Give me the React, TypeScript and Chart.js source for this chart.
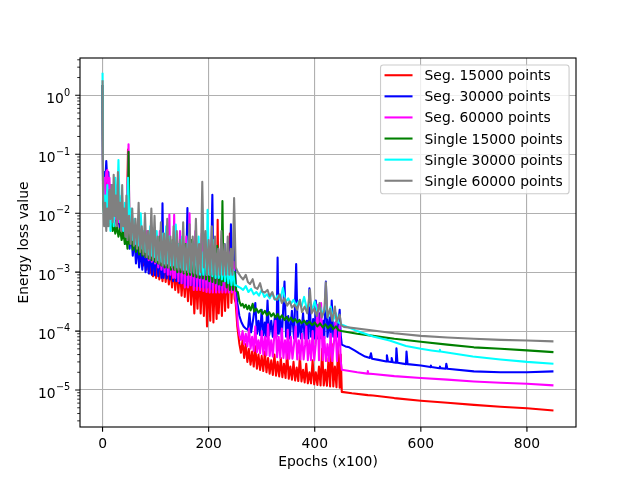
import { useEffect, useRef } from "react";
import { Chart, registerables } from "chart.js";

Chart.register(...registerables);

type Pt = [number, number];

const seriesLabels = [
  "Seg. 15000 points",
  "Seg. 30000 points",
  "Seg. 60000 points",
  "Single 15000 points",
  "Single 30000 points",
  "Single 60000 points",
];

const seriesColors = ["#ff0000", "#0000ff", "#ff00ff", "#008000", "#00ffff", "#808080"];

const seg15000: Pt[] = [
  [0, 1.5], [1, 0.03], [3, 0.045], [5, 0.02], [7, 0.04], [9, 0.025], [11, 0.035], [13, 0.015], [15, 0.03], [17, 0.01],
  [19, 0.02], [21, 0.008], [24, 0.015], [27, 0.006], [30, 0.01], [33, 0.005], [36, 0.008], [39, 0.004], [42, 0.007], [45, 0.0035],
  [48, 0.12], [50, 0.004], [53, 0.003], [56, 0.006], [59, 0.0025], [62, 0.005], [65, 0.002], [68, 0.004], [71, 0.0016], [74, 0.0035],
  [77, 0.0013], [80, 0.0028], [83, 0.0011], [86, 0.0025], [89, 0.00095], [92, 0.002], [95, 0.00085], [98, 0.0018], [101, 0.0008], [104, 0.0015],
  [107, 0.00075], [110, 0.0014], [113, 0.0007], [116, 0.0016], [119, 0.00068], [122, 0.0013], [125, 0.00062], [128, 0.0012], [131, 0.00055], [134, 0.0013],
  [137, 0.0005], [140, 0.0011], [143, 0.00045], [146, 0.0012], [149, 0.0004], [152, 0.001], [155, 0.00038], [158, 0.0011], [161, 0.00032], [164, 0.0012],
  [167, 0.00028], [170, 0.001], [173, 0.0002], [176, 0.0009], [179, 0.00024], [182, 0.0011], [185, 0.0002], [188, 0.0009], [191, 0.00018], [194, 0.001],
  [197, 0.00012], [200, 0.0008], [203, 0.00015], [206, 0.0012], [209, 0.00014], [212, 0.0009], [215, 0.00016], [217, 0.0077], [219, 0.0002], [222, 0.001],
  [225, 0.00018], [228, 0.0011], [231, 0.00022], [234, 0.0013], [237, 0.00025], [240, 0.0045], [243, 0.0003], [246, 0.0012], [249, 0.00035], [251, 0.0003],
  [254, 0.00012], [258, 6e-5], [261, 4.3e-5], [264, 7e-5], [267, 3.5e-5], [270, 6e-5], [273, 3e-5], [276, 5e-5], [279, 2.7e-5], [282, 4.5e-5],
  [285, 2.5e-5], [288, 5.5e-5], [291, 2.3e-5], [294, 4e-5], [297, 2.2e-5], [300, 3.8e-5], [303, 2.1e-5], [306, 4.5e-5], [309, 2e-5], [312, 3.5e-5],
  [315, 1.9e-5], [318, 3.2e-5], [321, 1.8e-5], [324, 4e-5], [327, 1.75e-5], [330, 3e-5], [333, 1.7e-5], [336, 3.5e-5], [339, 1.65e-5], [342, 2.8e-5],
  [345, 1.6e-5], [348, 4.5e-5], [351, 1.55e-5], [354, 2.5e-5], [357, 1.5e-5], [360, 3e-5], [363, 1.45e-5], [366, 2.4e-5], [369, 1.42e-5], [372, 3.8e-5],
  [375, 1.4e-5], [378, 2.2e-5], [381, 1.35e-5], [384, 2.8e-5], [387, 1.3e-5], [390, 2e-5], [393, 1.3e-5], [396, 3.2e-5], [399, 1.25e-5], [402, 2e-5],
  [405, 1.22e-5], [408, 2.5e-5], [411, 1.2e-5], [414, 5e-5], [417, 1.2e-5], [420, 2.2e-5], [423, 1.18e-5], [426, 3.5e-5], [429, 1.15e-5], [432, 6e-5],
  [435, 1.15e-5], [438, 2.5e-5], [441, 1.12e-5], [444, 5.5e-5], [447, 1.1e-5], [449, 4e-5], [451, 9.3e-6], [470, 8.8e-6], [500, 8.2e-6], [510, 8.1e-6],
  [550, 7.3e-6], [600, 6.6e-6], [650, 6.1e-6], [700, 5.6e-6], [750, 5.2e-6], [800, 4.9e-6], [850, 4.5e-6],
];

const seg30000: Pt[] = [
  [0, 1.5], [1, 0.02], [3, 0.05], [5, 0.03], [7, 0.077], [9, 0.035], [11, 0.05], [13, 0.02], [15, 0.03], [17, 0.012],
  [19, 0.02], [21, 0.008], [24, 0.015], [27, 0.006], [30, 0.012], [33, 0.005], [36, 0.009], [39, 0.004], [42, 0.007], [45, 0.003],
  [48, 0.01], [51, 0.0025], [54, 0.005], [57, 0.0019], [60, 0.004], [63, 0.0014], [66, 0.003], [69, 0.0012], [72, 0.0025], [75, 0.0011],
  [78, 0.003], [81, 0.001], [84, 0.002], [87, 0.00095], [90, 0.0025], [93, 0.0009], [96, 0.002], [99, 0.00088], [102, 0.003], [105, 0.00085],
  [108, 0.0022], [111, 0.0008], [113, 0.0147], [115, 0.0008], [118, 0.002], [121, 0.00078], [124, 0.0025], [127, 0.00075], [130, 0.002], [133, 0.0007],
  [136, 0.0028], [139, 0.0007], [142, 0.0018], [145, 0.00065], [148, 0.003], [151, 0.00065], [154, 0.002], [157, 0.0006], [160, 0.0122], [162, 0.0006],
  [165, 0.002], [168, 0.0006], [171, 0.0025], [174, 0.00058], [177, 0.0018], [180, 0.00058], [183, 0.003], [186, 0.00056], [189, 0.002], [192, 0.00055],
  [195, 0.0025], [198, 0.00055], [201, 0.0018], [204, 0.00052], [207, 0.0205], [209, 0.0006], [212, 0.002], [215, 0.0005], [218, 0.0025], [221, 0.0005],
  [224, 0.0018], [227, 0.0005], [230, 0.003], [233, 0.0005], [236, 0.002], [239, 0.0005], [242, 0.0065], [245, 0.0005], [248, 0.003], [251, 0.0006],
  [254, 0.0003], [258, 1.8e-4], [262, 1.4e-4], [266, 1.2e-4], [270, 1.1e-4], [274, 1.05e-4], [277, 2e-4], [280, 9.5e-5], [284, 1.6e-4], [288, 3e-4],
  [291, 9e-5], [294, 1.5e-4], [297, 8.5e-5], [300, 2.3e-4], [303, 8.5e-5], [306, 1.4e-4], [308, 8e-5], [311, 3.3e-4], [314, 8.5e-5], [318, 1.5e-4],
  [321, 8e-5], [325, 1.8e-4], [328, 8e-5], [330, 1.77e-3], [332, 9e-5], [335, 1.6e-4], [338, 7.8e-5], [343, 6.9e-4], [346, 8e-5], [350, 1.8e-4],
  [353, 7.5e-5], [357, 2.2e-4], [361, 7.5e-5], [365, 1.37e-3], [368, 8e-5], [371, 1.5e-4], [374, 7.5e-5], [378, 2e-4], [381, 7.5e-5], [385, 1.5e-4],
  [388, 7.5e-5], [390, 5.3e-4], [393, 8e-5], [397, 1.6e-4], [400, 7.5e-5], [402, 3.3e-4], [405, 7.5e-5], [409, 2e-4], [412, 7.5e-5], [416, 1.5e-4],
  [418, 7.5e-5], [421, 6.9e-4], [424, 8e-5], [428, 1.7e-4], [430, 7.5e-5], [432, 3.3e-4], [435, 8e-5], [439, 1.4e-4], [442, 8e-5], [447, 2.3e-4],
  [449, 8.5e-5], [451, 5.9e-5], [458, 5.5e-5], [465, 5.3e-5], [475, 4.7e-5], [484, 4.2e-5], [495, 3.7e-5], [504, 3.5e-5], [506, 4.2e-5], [508, 3.4e-5],
  [520, 3.25e-5], [535, 3.05e-5], [536, 3.9e-5], [538, 3.05e-5], [544, 3.0e-5], [545, 3.5e-5], [547, 2.95e-5], [553, 2.9e-5], [554, 5.1e-5], [556, 2.9e-5],
  [572, 2.75e-5], [573, 4.5e-5], [575, 2.75e-5], [600, 2.6e-5], [618, 2.45e-5], [619, 2.6e-5], [620, 2.45e-5], [635, 2.35e-5], [636, 2.5e-5], [637, 2.35e-5],
  [647, 2.3e-5], [648, 2.8e-5], [650, 2.3e-5], [700, 2.07e-5], [750, 2.0e-5], [800, 2.0e-5], [850, 2.07e-5],
];

const seg60000: Pt[] = [
  [0, 1.5], [1, 0.015], [3, 0.04], [5, 0.02], [7, 0.05], [9, 0.054], [11, 0.025], [13, 0.04], [15, 0.012], [17, 0.03],
  [19, 0.01], [21, 0.025], [24, 0.008], [28, 0.03], [31, 0.007], [34, 0.015], [37, 0.005], [40, 0.01], [43, 0.004], [46, 0.008],
  [49, 0.148], [51, 0.004], [54, 0.006], [57, 0.003], [60, 0.0077], [63, 0.0025], [66, 0.005], [69, 0.0022], [72, 0.006], [75, 0.002],
  [78, 0.004], [81, 0.0018], [84, 0.005], [87, 0.0016], [90, 0.0035], [93, 0.0015], [96, 0.004], [99, 0.0014], [102, 0.003], [105, 0.0012],
  [108, 0.005], [111, 0.0011], [114, 0.003], [117, 0.001], [120, 0.004], [123, 0.0009], [126, 0.0095], [128, 0.0009], [131, 0.003], [133, 0.0008],
  [135, 0.0094], [137, 0.0008], [140, 0.0035], [143, 0.0007], [146, 0.005], [149, 0.00065], [152, 0.003], [155, 0.00055], [158, 0.004], [161, 0.00055],
  [164, 0.01], [166, 0.0006], [169, 0.003], [172, 0.0005], [175, 0.005], [178, 0.0005], [181, 0.003], [184, 0.0005], [187, 0.0045], [190, 0.00048],
  [193, 0.0025], [196, 0.00046], [199, 0.004], [202, 0.00045], [205, 0.003], [208, 0.00045], [211, 0.0035], [214, 0.00045], [217, 0.002], [220, 0.00045],
  [223, 0.0025], [226, 0.00045], [229, 0.002], [232, 0.00045], [235, 0.0018], [238, 0.00045], [241, 0.0022], [244, 0.00045], [247, 0.0015], [250, 0.0004],
  [253, 0.00025], [255, 1.3e-4], [258, 8.5e-5], [261, 7.1e-5], [264, 1e-4], [267, 6e-5], [270, 9e-5], [273, 5.5e-5], [276, 1.1e-4], [279, 5e-5],
  [282, 8e-5], [285, 4.6e-5], [288, 1.2e-4], [291, 4.4e-5], [294, 7e-5], [297, 4.2e-5], [300, 1e-4], [303, 4e-5], [306, 8e-5], [309, 3.9e-5],
  [312, 1.3e-4], [315, 3.8e-5], [318, 7e-5], [321, 3.7e-5], [324, 9e-5], [326, 1.5e-4], [329, 3.6e-5], [332, 8e-5], [335, 3.5e-5], [338, 1.1e-4],
  [341, 3.5e-5], [344, 7e-5], [347, 3.4e-5], [349, 1.05e-4], [352, 3.4e-5], [355, 8e-5], [358, 3.4e-5], [361, 6e-5], [364, 1.2e-4], [367, 3.3e-5],
  [370, 7e-5], [373, 3.3e-5], [376, 9e-5], [379, 3.3e-5], [382, 6e-5], [384, 1.2e-4], [387, 3.2e-5], [390, 7e-5], [393, 3.2e-5], [396, 1e-4],
  [399, 3.2e-5], [402, 6e-5], [405, 2.8e-4], [408, 3.2e-5], [412, 3e-4], [415, 3.2e-5], [418, 8e-5], [421, 3.1e-5], [424, 6e-5], [427, 3.1e-5],
  [430, 9e-5], [433, 3.1e-5], [436, 6e-5], [439, 1.4e-4], [442, 3.1e-5], [445, 7e-5], [447, 1.25e-4], [449, 3.1e-5], [451, 2.2e-5], [480, 2.0e-5],
  [499, 1.9e-5], [500, 2.1e-5], [501, 1.9e-5], [510, 1.87e-5], [550, 1.72e-5], [600, 1.6e-5], [650, 1.5e-5], [700, 1.4e-5], [750, 1.33e-5], [800, 1.28e-5],
  [850, 1.2e-5],
];

const single15000: Pt[] = [
  [0, 1.5], [1, 0.015], [3, 0.01], [5, 0.012], [7, 0.008], [9, 0.01], [11, 0.007], [13, 0.009], [15, 0.006], [17, 0.008],
  [19, 0.005], [21, 0.007], [24, 0.0045], [27, 0.006], [30, 0.004], [33, 0.0055], [36, 0.0035], [39, 0.005], [42, 0.003], [45, 0.004],
  [47, 0.0025], [49, 0.11], [51, 0.003], [54, 0.0045], [57, 0.0024], [60, 0.004], [63, 0.0022], [66, 0.0035], [69, 0.002], [72, 0.005],
  [75, 0.0019], [78, 0.003], [81, 0.0018], [84, 0.004], [87, 0.0017], [90, 0.003], [93, 0.0016], [96, 0.0035], [99, 0.0015], [102, 0.0025],
  [105, 0.0014], [108, 0.004], [111, 0.0013], [114, 0.0025], [117, 0.0012], [120, 0.003], [123, 0.0012], [126, 0.0025], [129, 0.0011], [132, 0.0035],
  [135, 0.0011], [138, 0.002], [141, 0.001], [144, 0.003], [147, 0.001], [150, 0.0022], [153, 0.00095], [156, 0.003], [159, 0.0009], [162, 0.002],
  [165, 0.0009], [168, 0.0035], [171, 0.00085], [174, 0.002], [177, 0.00082], [180, 0.0025], [183, 0.0008], [186, 0.0018], [189, 0.00078], [192, 0.003],
  [195, 0.00075], [198, 0.002], [201, 0.0007], [204, 0.0025], [207, 0.00068], [210, 0.0018], [213, 0.00065], [216, 0.0028], [219, 0.00062], [222, 0.002],
  [224, 0.0006], [226, 0.016], [228, 0.0007], [231, 0.002], [234, 0.00055], [237, 0.0015], [240, 0.0005], [243, 0.0012], [246, 0.0005], [249, 0.001],
  [252, 0.00048], [255, 4.6e-4], [258, 3.2e-4], [261, 2.7e-4], [264, 2.9e-4], [267, 2.5e-4], [270, 2.8e-4], [273, 2.35e-4], [276, 2.7e-4], [279, 2.25e-4],
  [283, 2.9e-4], [286, 2.15e-4], [290, 2.4e-4], [294, 2.05e-4], [298, 2.3e-4], [302, 1.95e-4], [306, 2.2e-4], [310, 1.85e-4], [314, 2.1e-4], [318, 1.78e-4],
  [322, 2e-4], [326, 1.7e-4], [330, 1.95e-4], [334, 1.62e-4], [338, 1.85e-4], [343, 1.55e-4], [347, 1.75e-4], [351, 1.5e-4], [355, 1.7e-4], [359, 1.45e-4],
  [363, 1.6e-4], [367, 1.4e-4], [371, 1.55e-4], [375, 1.36e-4], [380, 1.5e-4], [385, 1.3e-4], [390, 1.45e-4], [395, 1.26e-4], [400, 1.4e-4], [405, 1.2e-4],
  [410, 1.35e-4], [415, 1.16e-4], [420, 1.3e-4], [425, 1.12e-4], [430, 1.28e-4], [435, 1.08e-4], [440, 1.2e-4], [445, 1.03e-4], [450, 1.0e-4], [480, 9e-5],
  [510, 8.3e-5], [550, 7.4e-5], [600, 6.6e-5], [650, 5.9e-5], [700, 5.3e-5], [750, 5.0e-5], [800, 4.7e-5], [850, 4.4e-5],
];

const single30000: Pt[] = [
  [0, 2.4], [1, 0.03], [3, 0.008], [5, 0.02], [7, 0.006], [9, 0.03], [11, 0.007], [13, 0.015], [15, 0.005], [18, 0.03],
  [21, 0.006], [24, 0.04], [27, 0.008], [30, 0.08], [33, 0.007], [36, 0.02], [39, 0.005], [42, 0.015], [45, 0.004], [48, 0.04],
  [51, 0.005], [54, 0.012], [57, 0.0035], [60, 0.008], [63, 0.003], [66, 0.006], [69, 0.0028], [72, 0.01], [75, 0.0025], [78, 0.005],
  [81, 0.0022], [84, 0.004], [87, 0.002], [90, 0.006], [93, 0.0019], [96, 0.0035], [99, 0.0018], [102, 0.005], [105, 0.0016], [108, 0.003],
  [111, 0.0015], [114, 0.0045], [117, 0.0014], [120, 0.006], [123, 0.0014], [126, 0.004], [129, 0.0013], [132, 0.0032], [135, 0.0013], [138, 0.0064],
  [141, 0.0012], [144, 0.003], [147, 0.0012], [150, 0.004], [153, 0.0011], [156, 0.0025], [159, 0.0011], [163, 0.0045], [166, 0.001], [169, 0.003],
  [172, 0.001], [175, 0.0025], [178, 0.00095], [181, 0.004], [184, 0.0009], [187, 0.0022], [190, 0.0009], [193, 0.003], [196, 0.0009], [198, 0.0114],
  [201, 0.0009], [204, 0.0025], [207, 0.00085], [210, 0.0035], [213, 0.0008], [216, 0.002], [219, 0.0008], [222, 0.0018], [225, 0.00075], [228, 0.0015],
  [231, 0.0007], [234, 0.0016], [237, 0.00065], [240, 0.0012], [243, 0.0006], [246, 0.0011], [249, 0.0006], [252, 0.0006], [255, 0.00057], [260, 5.4e-4],
  [265, 5.0e-4], [270, 5.8e-4], [275, 4.6e-4], [280, 5.2e-4], [285, 4.2e-4], [290, 4.6e-4], [295, 4.0e-4], [300, 5.0e-4], [305, 3.8e-4], [310, 4.2e-4],
  [315, 3.6e-4], [320, 4.4e-4], [325, 3.4e-4], [330, 4.0e-4], [335, 3.3e-4], [340, 5.4e-4], [345, 3.1e-4], [350, 3.6e-4], [355, 2.9e-4], [360, 3.4e-4],
  [365, 2.7e-4], [370, 3.2e-4], [375, 2.6e-4], [380, 3.8e-4], [385, 2.4e-4], [390, 2.9e-4], [395, 2.3e-4], [400, 3.2e-4], [405, 2.1e-4], [410, 2.6e-4],
  [415, 1.9e-4], [420, 2.8e-4], [425, 1.7e-4], [430, 2.6e-4], [435, 1.55e-4], [440, 2e-4], [445, 1.4e-4], [450, 1.3e-4], [455, 1.25e-4], [480, 1.0e-4],
  [510, 8.1e-5], [541, 6.9e-5], [572, 5.6e-5], [600, 5.0e-5], [620, 4.7e-5], [635, 4.5e-5], [636, 4.8e-5], [637, 4.5e-5], [698, 3.7e-5], [750, 3.3e-5],
  [800, 3.0e-5], [850, 2.8e-5],
];

const single60000: Pt[] = [
  [0, 1.8], [1, 0.02], [3, 0.006], [5, 0.015], [7, 0.005], [9, 0.012], [11, 0.006], [13, 0.025], [15, 0.008], [17, 0.03],
  [19, 0.007], [21, 0.045], [23, 0.009], [25, 0.02], [27, 0.006], [29, 0.05], [31, 0.008], [33, 0.015], [35, 0.005], [37, 0.03],
  [39, 0.006], [41, 0.012], [43, 0.004], [45, 0.02], [47, 0.0035], [50, 0.009], [53, 0.003], [56, 0.012], [59, 0.0028], [62, 0.008],
  [65, 0.0025], [68, 0.015], [71, 0.0022], [74, 0.006], [77, 0.002], [80, 0.01], [83, 0.0018], [86, 0.005], [89, 0.0017], [92, 0.012],
  [95, 0.0016], [98, 0.009], [101, 0.0015], [104, 0.004], [107, 0.0014], [110, 0.007], [113, 0.0013], [116, 0.0045], [119, 0.0013], [122, 0.008],
  [125, 0.0012], [128, 0.004], [131, 0.0012], [134, 0.006], [137, 0.0011], [140, 0.005], [143, 0.0011], [146, 0.0035], [149, 0.0011], [152, 0.007],
  [155, 0.001], [158, 0.003], [161, 0.001], [164, 0.0065], [167, 0.001], [170, 0.004], [173, 0.00095], [176, 0.008], [179, 0.0009], [182, 0.003],
  [185, 0.001], [188, 0.034], [191, 0.0012], [194, 0.005], [197, 0.0009], [200, 0.0035], [203, 0.0009], [206, 0.006], [209, 0.0009], [212, 0.004],
  [215, 0.0009], [218, 0.0025], [221, 0.0009], [224, 0.005], [227, 0.0009], [230, 0.003], [233, 0.0009], [236, 0.004], [239, 0.0009], [242, 0.0025],
  [245, 0.0009], [248, 0.018], [251, 0.0012], [255, 1.0e-3], [260, 8.5e-4], [265, 7.5e-4], [270, 9e-4], [274, 6.8e-4], [278, 6.3e-4], [283, 7.6e-4],
  [287, 5.5e-4], [292, 5.2e-4], [297, 6.5e-4], [301, 4.7e-4], [306, 4.5e-4], [311, 5.0e-4], [315, 3.9e-4], [320, 4.6e-4], [324, 3.5e-4], [329, 3.4e-4],
  [334, 4.2e-4], [338, 3.0e-4], [343, 3.6e-4], [348, 2.7e-4], [353, 3.2e-4], [357, 2.5e-4], [362, 2.8e-4], [367, 2.3e-4], [372, 3.4e-4], [376, 2.1e-4],
  [381, 2.6e-4], [386, 2.0e-4], [391, 5.0e-4], [394, 2.0e-4], [399, 2.4e-4], [404, 1.8e-4], [409, 3.0e-4], [413, 1.7e-4], [418, 2.2e-4], [421, 6.7e-4],
  [424, 1.7e-4], [429, 2.4e-4], [433, 1.5e-4], [438, 2.6e-4], [441, 1.45e-4], [447, 1.9e-4], [450, 1.25e-4], [455, 1.18e-4], [510, 1.02e-4], [550, 9.2e-5],
  [600, 8.3e-5], [650, 7.8e-5], [700, 7.4e-5], [750, 7.1e-5], [800, 6.9e-5], [850, 6.7e-5],
];

const allSeries: Pt[][] = [seg15000, seg30000, seg60000, single15000, single30000, single60000];

const xTickValues = [0, 200, 400, 600, 800];
const yTickExponents = [0, -1, -2, -3, -4, -5];
const yMinorSubs = [2, 3, 4, 5, 6, 7, 8, 9];
const xLabel = "Epochs (x100)";
const yLabel = "Energy loss value";

const FONT = '"DejaVu Sans", "Liberation Sans", sans-serif';
const FS = 13.89;

function roundRectPath(ctx: CanvasRenderingContext2D, x: number, y: number, w: number, h: number, r: number) {
  ctx.beginPath();
  ctx.moveTo(x + r, y);
  ctx.lineTo(x + w - r, y);
  ctx.arcTo(x + w, y, x + w, y + r, r);
  ctx.lineTo(x + w, y + h - r);
  ctx.arcTo(x + w, y + h, x + w - r, y + h, r);
  ctx.lineTo(x + r, y + h);
  ctx.arcTo(x, y + h, x, y + h - r, r);
  ctx.lineTo(x, y + r);
  ctx.arcTo(x, y, x + r, y, r);
  ctx.closePath();
}

const mplPlugin = {
  id: "mplDecor",
  afterDraw(chart: any) {
    const ctx: CanvasRenderingContext2D = chart.ctx;
    const { left, right, top, bottom } = chart.chartArea;
    const xs = chart.scales.x;
    const ys = chart.scales.y;
    ctx.save();

    // spines
    ctx.strokeStyle = "#000";
    ctx.lineWidth = 1.11;
    ctx.strokeRect(left, top, right - left, bottom - top);

    // major ticks
    ctx.beginPath();
    for (const v of xTickValues) {
      const px = xs.getPixelForValue(v);
      ctx.moveTo(px, bottom);
      ctx.lineTo(px, bottom + 4.86);
    }
    for (const e of yTickExponents) {
      const py = ys.getPixelForValue(Math.pow(10, e));
      ctx.moveTo(left, py);
      ctx.lineTo(left - 4.86, py);
    }
    ctx.stroke();

    // minor ticks (log axis)
    ctx.lineWidth = 0.83;
    ctx.beginPath();
    for (let e = -7; e <= 1; e++) {
      for (const s of yMinorSubs) {
        const v = s * Math.pow(10, e);
        if (v < ys.min || v > ys.max) continue;
        const py = ys.getPixelForValue(v);
        ctx.moveTo(left, py);
        ctx.lineTo(left - 2.78, py);
      }
    }
    ctx.stroke();

    // tick labels
    ctx.fillStyle = "#000";
    ctx.font = `${FS}px ${FONT}`;
    ctx.textAlign = "center";
    ctx.textBaseline = "alphabetic";
    for (const v of xTickValues) {
      ctx.fillText(String(v), xs.getPixelForValue(v), bottom + 21);
    }
    const xr = left - 9.72;
    for (const e of yTickExponents) {
      const py = ys.getPixelForValue(Math.pow(10, e));
      const expStr = e === 0 ? "0" : "\u2212" + String(-e);
      ctx.font = `${FS * 0.7}px ${FONT}`;
      const ew = ctx.measureText(expStr).width;
      ctx.textAlign = "left";
      ctx.fillText(expStr, xr - ew, py + 0.3);
      ctx.font = `${FS}px ${FONT}`;
      ctx.textAlign = "right";
      ctx.fillText("10", xr - ew - 0.3, py + 8);
    }

    // axis titles
    ctx.font = `${FS}px ${FONT}`;
    ctx.textAlign = "center";
    ctx.fillText(xLabel, (left + right) / 2, 466);
    ctx.save();
    ctx.translate(28.3, (top + bottom) / 2);
    ctx.rotate(-Math.PI / 2);
    ctx.fillText(yLabel, 0, 0);
    ctx.restore();

    // legend
    ctx.font = `${FS}px ${FONT}`;
    let maxW = 0;
    for (const l of seriesLabels) maxW = Math.max(maxW, ctx.measureText(l).width);
    const boxW = 44 + maxW + 6.3;
    const boxH = 128.8;
    const boxX = right - 6.94 - boxW;
    const boxY = top + 6.94;
    roundRectPath(ctx, boxX, boxY, boxW, boxH, 2.8);
    ctx.fillStyle = "rgba(255,255,255,0.8)";
    ctx.fill();
    ctx.strokeStyle = "#cccccc";
    ctx.lineWidth = 1.11;
    ctx.stroke();
    ctx.textAlign = "left";
    ctx.textBaseline = "alphabetic";
    seriesLabels.forEach((l, i) => {
      const cy = boxY + 10.3 + i * 21.1;
      ctx.strokeStyle = seriesColors[i];
      ctx.lineWidth = 2.08;
      ctx.beginPath();
      ctx.moveTo(boxX + 4, cy);
      ctx.lineTo(boxX + 32, cy);
      ctx.stroke();
      ctx.fillStyle = "#000";
      ctx.fillText(l, boxX + 44, cy + 5);
    });

    ctx.restore();
  },
};

export default function App() {
  const canvasRef = useRef<HTMLCanvasElement | null>(null);

  useEffect(() => {
    if (!canvasRef.current) return;
    const datasets = allSeries.map((s, i) => ({
      label: seriesLabels[i],
      data: s.map(([x, y]) => ({ x, y })),
      borderColor: seriesColors[i],
      backgroundColor: seriesColors[i],
      borderWidth: 2.08,
      borderJoinStyle: "round" as const,
      pointRadius: 0,
      pointHoverRadius: 0,
      tension: 0,
      fill: false,
      order: seriesLabels.length - 1 - i,
    }));
    const chart = new Chart(canvasRef.current, {
      type: "line",
      data: { datasets },
      options: {
        animation: false,
        responsive: false,
        events: [],
        layout: { padding: { left: 0, right: 64, top: 58, bottom: 0 } },
        plugins: { legend: { display: false }, tooltip: { enabled: false }, title: { display: false } },
        scales: {
          x: {
            type: "linear",
            min: -42.5,
            max: 892.5,
            afterBuildTicks: (scale: any) => {
              scale.ticks = xTickValues.map((v) => ({ value: v }));
            },
            afterFit: (scale: any) => {
              scale.height = 53;
            },
            ticks: { display: false },
            grid: { color: "#b0b0b0", lineWidth: 1.11, drawTicks: false },
            border: { display: false },
          },
          y: {
            type: "logarithmic",
            min: 2.36e-6,
            max: 4.29,
            afterBuildTicks: (scale: any) => {
              scale.ticks = yTickExponents.map((e) => ({ value: Math.pow(10, e) }));
            },
            afterFit: (scale: any) => {
              scale.width = 80;
            },
            ticks: { display: false },
            grid: { color: "#b0b0b0", lineWidth: 1.11, drawTicks: false },
            border: { display: false },
          },
        },
      },
      plugins: [mplPlugin],
    });
    return () => chart.destroy();
  }, []);

  return (
    <div style={{ position: "fixed", left: 0, top: 0, width: 640, height: 480, background: "#fff" }}>
      <canvas ref={canvasRef} width={640} height={480} style={{ display: "block", width: 640, height: 480 }} />
    </div>
  );
}
